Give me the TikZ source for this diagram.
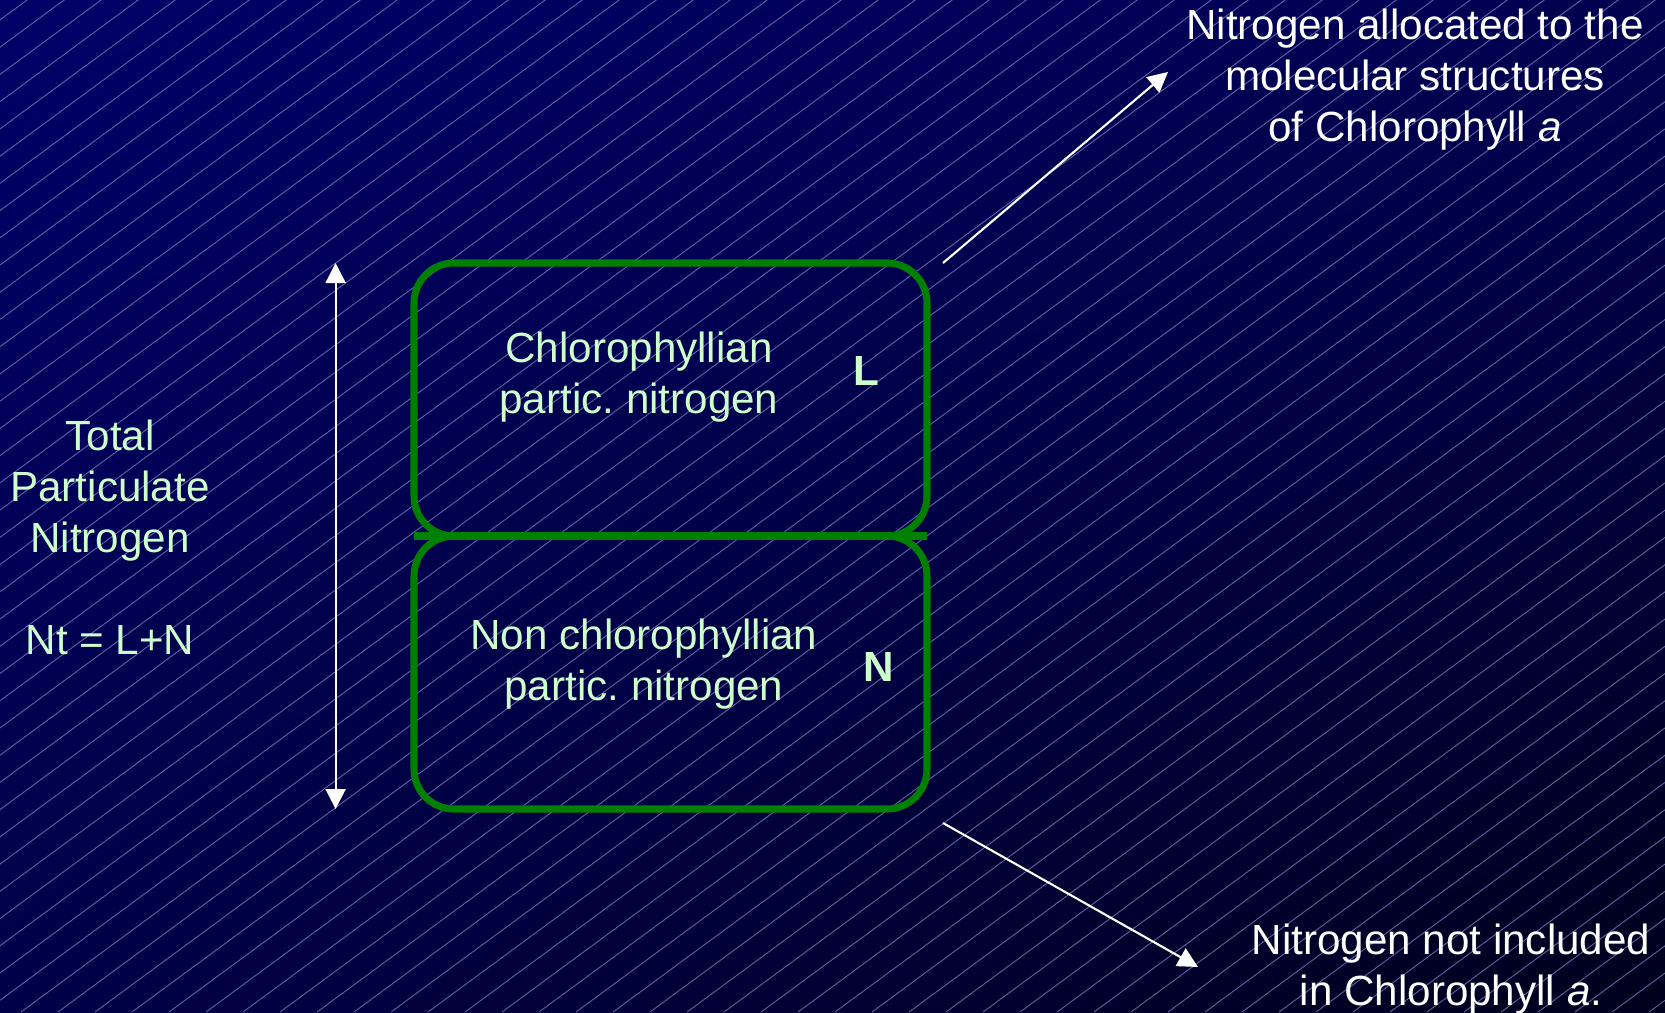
\documentclass[tikz,border=0pt]{standalone}
\usepackage{fontspec}
\setmainfont{Liberation Sans}
\usetikzlibrary{arrows.meta,positioning,shadings}
\definecolor{boxgreen}{RGB}{0,128,0}
\definecolor{palegreen}{RGB}{204,255,204}
\definecolor{hatchgray}{RGB}{100,100,165}
\definecolor{bgtl}{RGB}{0,0,104}
\definecolor{bgtr}{RGB}{0,0,80}
\definecolor{bgbl}{RGB}{0,0,72}
\definecolor{bgbr}{RGB}{0,0,28}
\frenchspacing
\begin{document}
\begin{tikzpicture}[
    pbox/.style={draw=boxgreen,line width=2pt,rounded corners=0.4cm,outer sep=0pt,
      minimum width=5.13cm,minimum height=2.73cm},
    gtxt/.style={text=palegreen,align=center,font=\fontsize{12}{14.5}\selectfont},
    gsym/.style={text=palegreen,font=\fontsize{12}{14.5}\selectfont\bfseries},
    wtxt/.style={text=white,align=center,font=\fontsize{12}{14.5}\selectfont},
    warrow/.style={white,line width=0.6pt,-{Triangle[length=0.2cm,width=0.2cm]}}]
  \useasboundingbox (0,0) rectangle (16.65,10.12);
  \shade[upper left=bgtl,upper right=bgtr,lower left=bgbl,lower right=bgbr]
    (0,0) rectangle (16.65,10.12);
  \begin{scope}
    \clip (0,0) rectangle (16.65,10.12);
    \foreach \c in {-13.85,-13.48,...,16.7}
      \draw[hatchgray,line width=0.25pt] (\c,0) -- ++(13.86,10.2);
  \end{scope}
  \node[pbox] (lbox) at (6.705,6.125) {};
  \node[pbox] (nbox) at (6.705,3.395) {};
  \draw[boxgreen,line width=2pt] (lbox.south west) -- (lbox.south east);
  \node[gtxt] (ltxt) at (6.39,6.35) {Chlorophyllian\\partic. nitrogen};
  \node[gsym] (lsym) at (8.66,6.41) {L};
  \node[gtxt] (ntxt) at (6.44,3.48) {Non chlorophyllian\\partic. nitrogen};
  \node[gsym] (nsym) at (8.79,3.45) {N};
  \node[gtxt] (total) at (1.10,4.75) {Total\\Particulate\\Nitrogen\\[14.5pt]Nt = L+N};
  \node[wtxt] (alloc) at (14.15,9.32) {Nitrogen allocated to the\\molecular structures\\of Chlorophyll \textit{a}};
  \node[wtxt] (notinc) at (14.51,0.43) {Nitrogen not included\\in Chlorophyll \textit{a}.};
  \draw[white,line width=0.6pt,{Triangle[length=0.2cm,width=0.2cm]}-{Triangle[length=0.2cm,width=0.2cm]}]
    ([xshift=-0.784cm]lbox.north west) -- ([xshift=-0.784cm]nbox.south west);
  \coordinate (toL) at (11.68,9.40);
  \coordinate (toN) at (11.98,0.45);
  \draw[warrow] ([xshift=0.16cm]lbox.north east) -- (toL);
  \draw[warrow] ([xshift=0.16cm,yshift=-0.14cm]nbox.south east) -- (toN);
\end{tikzpicture}
\end{document}
